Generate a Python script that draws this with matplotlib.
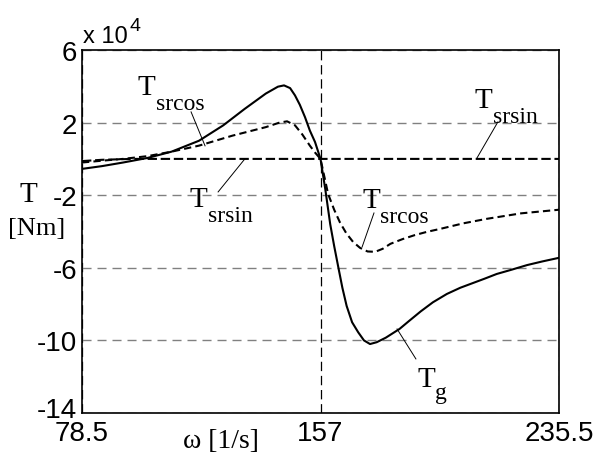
import matplotlib.pyplot as plt
import matplotlib.transforms as mtransforms

plt.rcParams["axes.unicode_minus"] = False

# speed axis [1/s] and torque curves [x 1e4 Nm]
w_g = [78.5, 85, 92, 100, 108, 117, 125, 132, 139, 143, 145, 147, 148.6,
       150.2, 151.9, 153.5, 155.2, 157, 158.6, 160.2, 161.5, 162.9, 164.2,
       165.6, 167.4, 169.4, 171.3, 173.3, 175.5, 178.5, 183, 186, 190, 194,
       198.6, 203, 207, 211, 215, 220, 225, 230, 235.5]
T_g = [-0.55, -0.4, -0.2, 0.05, 0.4, 1.0, 1.85, 2.75, 3.6, 3.98, 4.05, 3.9,
       3.5, 2.98, 2.3, 1.56, 0.93, 0.0, -1.7, -3.6, -4.8, -6.0, -7.1, -8.1,
       -9.0, -9.55, -10.0, -10.2, -10.1, -9.85, -9.37, -8.95, -8.4, -7.9,
       -7.44, -7.1, -6.85, -6.6, -6.34, -6.1, -5.85, -5.65, -5.45]

w_cos = [78.5, 85, 92, 100, 108, 117, 128, 139, 143.5, 146, 148.6, 151,
         153.5, 155.2, 157, 159.5, 161.5, 163.4, 165.5, 167.7, 170, 172.5,
         175, 177.5, 180, 184, 188, 192, 196.3, 204, 211.8, 223, 235.5]
T_srcos = [-0.2, -0.1, 0.0, 0.15, 0.4, 0.73, 1.28, 1.75, 2.0, 2.07, 1.85,
           1.35, 0.73, 0.35, 0.0, -1.93, -2.8, -3.5, -4.1, -4.57, -4.9, -5.1,
           -5.12, -4.95, -4.68, -4.42, -4.2, -4.02, -3.86, -3.55, -3.3, -3.0,
           -2.8]

w_sin = [78.5, 85, 95, 157, 235.5]
T_srsin = [-0.12, -0.05, 0.0, 0.0, 0.0]

x_ticks = [78.5, 157, 235.5]
x_labels = ["78.5", "157", "235.5"]
y_ticks = [6, 2, -2, -6, -10, -14]

sans = "Liberation Sans"
serif = "Liberation Serif"

fig = plt.figure(figsize=(5.98, 4.60), dpi=100)
ax = fig.add_axes([82 / 598, 46 / 460, 477 / 598, 363 / 460])

ax.plot(w_g, T_g, color="k", lw=1.5, zorder=4)
ax.plot(w_cos, T_srcos, color="k", lw=1.5, ls=(0, (3.5, 2)), zorder=3)
ax.plot(w_sin, T_srsin, color="k", lw=1.5, ls=(0, (4.5, 1.8)), zorder=3)

ax.set_xlim(78.5, 235.5)
ax.set_ylim(-14, 6)
ax.set_xticks(x_ticks)
ax.set_xticklabels(x_labels)
ax.set_yticks(y_ticks)
ax.tick_params(length=0, labelsize=20)
ax.tick_params(axis="x", pad=5)
ax.tick_params(axis="y", pad=3.6)
for lab in ax.get_xticklabels() + ax.get_yticklabels():
    lab.set_family(sans)

# lift the bottom y label a little so it clears the first x label
bottom_lab = ax.yaxis.get_major_ticks()[-1].label1
bottom_lab.set_transform(bottom_lab.get_transform()
                         + mtransforms.ScaledTranslation(0, 4 / 72, fig.dpi_scale_trans))

ax.set_axisbelow(True)
ax.yaxis.grid(True, color="#808080", lw=1.0, ls=(0, (6.5, 4.3)))
ax.xaxis.grid(True, color="k", lw=0.9, ls=(0, (7.5, 3.8)))
for sp in ax.spines.values():
    sp.set_linewidth(1.2)

# scale factor and axis captions
fig.text(83 / 598, 1 - 43 / 460, "x 10", family=sans, fontsize=17, va="baseline")
fig.text(130 / 598, 1 - 31 / 460, "4", family=sans, fontsize=14, va="baseline")
fig.text(20 / 598, 1 - 202 / 460, "T", family=serif, fontsize=21, va="baseline")
fig.text(8 / 598, 1 - 235 / 460, "[Nm]", family=serif, fontsize=19, va="baseline")
fig.text(183 / 598, 1 - 448 / 460, "ω [1/s]", family=serif, fontsize=20, va="baseline")


def curve_label(x, y, sub, line_from, line_to, dx=18, dy=-15):
    ax.text(x, y, "T", family=serif, fontsize=21, va="baseline", zorder=6)
    tr = mtransforms.offset_copy(ax.transData, fig=fig, x=dx, y=dy, units="dots")
    ax.text(x, y, sub, family=serif, fontsize=17, va="baseline", transform=tr, zorder=6)
    ax.plot([line_from[0], line_to[0]], [line_from[1], line_to[1]],
            color="k", lw=0.7, zorder=5)


curve_label(96.9, 3.58, "srcos", (114.4, 2.59), (119.0, 0.72))
curve_label(114.0, -2.59, "srsin", (123.3, -1.82), (132.1, 0.0))
curve_label(207.8, 2.87, "srsin", (215.4, 2.04), (208.5, 0.05))
curve_label(170.7, -2.64, "srcos", (174.6, -2.98), (170.7, -4.85))
curve_label(188.8, -12.5, "g", (188.4, -11.02), (182.2, -9.37), dy=-12)

fig.savefig("out.png", dpi=100)
